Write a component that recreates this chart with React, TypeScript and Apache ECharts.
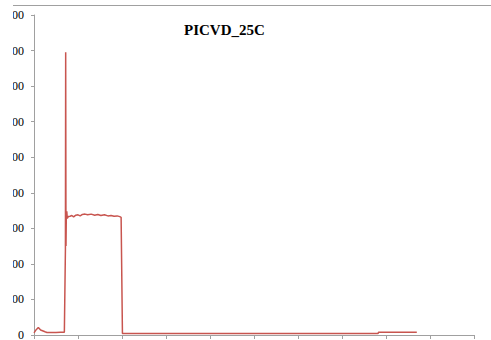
import React, { useEffect, useRef } from "react";
import * as echarts from "echarts";

const chartTitle = "PICVD_25C";
const times = [0, 0.5, 0.98, 1.5, 2.5, 2.95, 4, 5, 6, 6.9, 7.05, 7.14, 7.2, 7.27, 7.34, 7.45, 7.57, 7.8, 8.2, 8.6, 9.0, 9.5, 10, 10.5, 11, 11.6, 12.2, 13, 13.8, 14.5, 15.2, 16, 16.8, 17.5, 18.2, 18.9, 19.5, 19.8, 20.1, 25, 40, 60, 78.2, 78.3, 87];
const values = [6, 15, 21, 14, 9, 7, 7, 7, 7.5, 7.5, 7.5, 240, 795, 250, 330, 348, 328, 333, 334, 336, 332, 337, 338, 335, 339, 340, 338, 340, 337, 339, 336, 338, 335, 336, 334, 335, 333, 331, 4, 4, 4, 4, 4, 7.5, 7.5];
const yMin = 0;
const yMax = 900;
const yStep = 100;
const xMin = 0;
const xMax = 100;
const xStep = 10;

export default function App() {
  const ref = useRef<HTMLDivElement>(null);
  useEffect(() => {
    if (!ref.current) return;
    const chart = echarts.init(ref.current, null, { renderer: "svg" });
    const axisColor = "#a0a0a0";
    const serif = "'Liberation Serif', 'DejaVu Serif', serif";
    chart.setOption({
      animation: false,
      title: {
        text: chartTitle,
        left: 166,
        top: 11,
        textStyle: { fontFamily: serif, fontWeight: "bold", fontSize: 15, color: "#000" },
      },
      grid: { left: 21, top: 9, width: 440, height: 320, containLabel: false, outerBoundsMode: "none" },
      xAxis: {
        type: "value",
        min: xMin,
        max: xMax,
        interval: xStep,
        axisLine: { lineStyle: { color: axisColor } },
        axisTick: { show: true, length: 4, lineStyle: { color: axisColor } },
        axisLabel: { show: false },
        splitLine: { show: false },
      },
      yAxis: {
        type: "value",
        min: yMin,
        max: yMax,
        interval: yStep,
        axisLine: { show: true, lineStyle: { color: axisColor } },
        axisTick: { show: true, length: 3, lineStyle: { color: axisColor } },
        axisLabel: { margin: 10, color: "#000", fontFamily: serif, fontSize: 12 },
        splitLine: { show: false },
      },
      series: [
        {
          type: "line",
          data: times.map((t, i) => [t, values[i]]),
          showSymbol: false,
          lineStyle: { color: "#c8554f", width: 1.5 },
          itemStyle: { color: "#c8554f" },
        },
      ],
    });
    return () => chart.dispose();
  }, []);
  return (
    <div style={{ position: "absolute", left: 13, top: 5, width: 478, height: 335, overflow: "hidden", borderTop: "1px solid #a0a0a0", background: "#fff" }}>
      <div ref={ref} style={{ width: 478, height: 334 }} />
    </div>
  );
}
